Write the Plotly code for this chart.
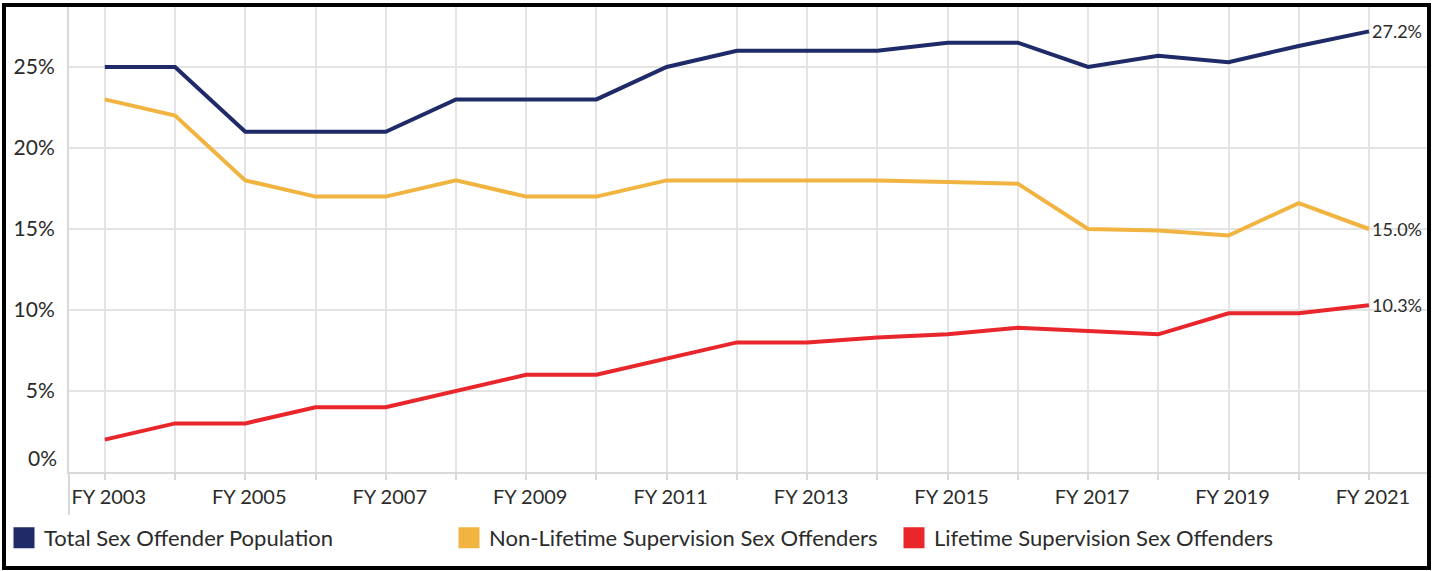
import plotly.graph_objects as go

years = ["FY 2003", "FY 2004", "FY 2005", "FY 2006", "FY 2007", "FY 2008", "FY 2009",
         "FY 2010", "FY 2011", "FY 2012", "FY 2013", "FY 2014", "FY 2015", "FY 2016",
         "FY 2017", "FY 2018", "FY 2019", "FY 2020", "FY 2021"]
total = [25, 25, 21, 21, 21, 23, 23, 23, 25, 26, 26, 26, 26.5, 26.5, 25, 25.7, 25.3, 26.3, 27.2]
non_lifetime = [23, 22, 18, 17, 17, 18, 17, 17, 18, 18, 18, 18, 17.9, 17.8, 15, 14.9, 14.6, 16.6, 15.0]
lifetime = [2, 3, 3, 4, 4, 5, 6, 6, 7, 8, 8, 8.3, 8.5, 8.9, 8.7, 8.5, 9.8, 9.8, 10.3]
series_names = ["Total Sex Offender Population", "Non-Lifetime Supervision Sex Offenders",
                "Lifetime Supervision Sex Offenders"]
colors = ["#1f2a68", "#f2b441", "#e8262b"]
y_ticks = [0, 5, 10, 15, 20, 25]
y_tick_text = ["0%", "5%", "10%", "15%", "20%", "25%"]

FONT = "Lato, Carlito, Calibri, sans-serif"
TXT = "#2b2b2b"

idx = list(range(len(years)))
fig = go.Figure()
for name, vals, col in zip(series_names, [total, non_lifetime, lifetime], colors):
    fig.add_trace(go.Scatter(x=idx, y=vals, mode="lines", name=name, showlegend=False,
                             line=dict(color=col, width=4), hoverinfo="x+y"))
    fig.add_annotation(x=idx[-1], y=vals[-1], xref="x", yref="y", text=f"{vals[-1]:.1f}%",
                       showarrow=False, xanchor="left", xshift=1,
                       font=dict(family=FONT, size=18, color=TXT))
for name, col in zip(series_names, colors):
    fig.add_trace(go.Scatter(x=[None], y=[None], mode="markers", name=name,
                             marker=dict(symbol="square", size=16, color=col,
                                         line=dict(color=col, width=5))))

# 0% label sits above the axis line
fig.add_annotation(x=0, y=0, xref="paper", yref="y", text="0%", showarrow=False,
                   xanchor="right", xshift=-10, yshift=15,
                   font=dict(family=FONT, size=21, color=TXT))

# outer frame
fig.add_shape(type="rect", xref="paper", yref="paper",
              x0=(4 - 69) / 1358, x1=(1429 - 69) / 1358,
              y0=(472 - 568) / 465, y1=(472 - 5) / 465,
              line=dict(color="black", width=4), fillcolor="rgba(0,0,0,0)")
# extended left axis line below the plot
fig.add_shape(type="line", xref="paper", yref="paper", x0=0, x1=0,
              y0=0, y1=(472 - 515) / 465, line=dict(color="#d9d9d9", width=2))

fig.update_layout(
    width=1445, height=571,
    margin=dict(l=69, r=18, t=7, b=99, autoexpand=False),
    paper_bgcolor="white", plot_bgcolor="white",
    font=dict(family=FONT, color=TXT),
    legend=dict(orientation="h", x=(4 - 69) / 1358, y=(472 - 538) / 465,
                xanchor="left", yanchor="middle", entrywidth=400, entrywidthmode="pixels",
                font=dict(family=FONT, size=22, color=TXT), itemsizing="trace",
                bgcolor="rgba(0,0,0,0)"),
    xaxis=dict(range=[-0.51, 18 + (1427 - 1369) / 70.2], tickmode="array", automargin=False,
               tickvals=idx, ticktext=[y if i % 2 == 0 else "" for i, y in enumerate(years)],
               showgrid=True, gridcolor="#e4e4e4", gridwidth=2,
               ticks="outside", ticklen=6, tickcolor="#d9d9d9", tickwidth=2,
               showline=True, linecolor="#d9d9d9", linewidth=2, ticklabelshift=4,
               tickfont=dict(family=FONT, size=20, color=TXT), zeroline=False),
    yaxis=dict(range=[0, 465 / 16.2], tickmode="array", tickvals=y_ticks, automargin=False,
               ticktext=[""] + y_tick_text[1:],
               showgrid=True, gridcolor="#e4e4e4", gridwidth=2,
               showline=True, linecolor="#d9d9d9", linewidth=2, zeroline=False,
               ticks="", ticklabelstandoff=8,
               tickfont=dict(family=FONT, size=21, color=TXT)),
)
fig.write_html("out.html", config={"displayModeBar": False},
               post_script="document.body.style.margin='0';")
